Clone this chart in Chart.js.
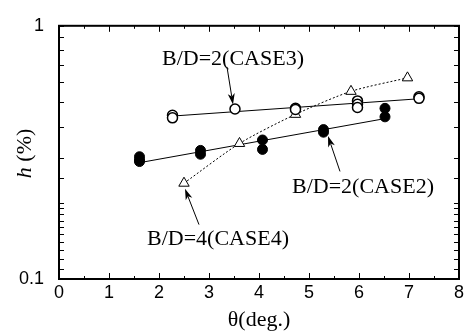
<!DOCTYPE html>
<html>
<head>
<meta charset="utf-8">
<script src="https://cdn.jsdelivr.net/npm/chart.js@4"></script>
<style>
  html, body { margin: 0; padding: 0; background: #fff; }
  canvas { display: block; }
</style>
</head>
<body>
<canvas id="myChart" width="467" height="335"></canvas>
<script>
// values: theta (deg.) and h (%)
var case3X = [2.27, 2.27, 3.52, 4.73, 4.73, 5.97, 5.97, 5.97, 7.2, 7.2];
var case3Y = [0.443, 0.433, 0.469, 0.472, 0.467, 0.505, 0.490, 0.476, 0.524, 0.517];
var case3FitX = [2.27, 7.2];
var case3FitY = [0.440, 0.515];

var case2X = [1.61, 1.61, 1.61, 2.83, 2.83, 4.07, 4.07, 5.29, 5.29, 6.52, 6.52];
var case2Y = [0.304, 0.295, 0.291, 0.322, 0.311, 0.354, 0.325, 0.389, 0.380, 0.472, 0.437];
var case2FitX = [1.61, 6.52];
var case2FitY = [0.288, 0.430];

var case4X = [2.5, 3.61, 4.73, 5.84, 6.97];
var case4Y = [0.239, 0.343, 0.447, 0.551, 0.623];

var xTicks = [0, 1, 2, 3, 4, 5, 6, 7, 8];
var yTickLabels = ['0.1', '1'];

// annotation labels with arrows (text position, arrow tail, arrow tip), in data units
var notes = [
  { text: 'B/D=2(CASE3)', x: 3.48, y: 0.736, from: [3.36, 0.688], to: [3.48, 0.489] },
  { text: 'B/D=2(CASE2)', x: 6.08, y: 0.231, from: [5.62, 0.266], to: [5.38, 0.367] },
  { text: 'B/D=4(CASE4)', x: 3.18, y: 0.144, from: [2.80, 0.164], to: [2.52, 0.227] }
];

function pts(xs, ys) {
  return xs.map(function(x, i) { return { x: x, y: ys[i] }; });
}

var serif = '"Liberation Serif", "Times New Roman", serif';

var decor = {
  id: 'decor',
  afterDraw: function(chart) {
    var c = chart.ctx, a = chart.chartArea;
    var xs = chart.scales.x, ys = chart.scales.y;
    c.save();
    c.strokeStyle = '#000';
    c.fillStyle = '#000';

    // inward ticks
    c.lineWidth = 1;
    c.beginPath();
    for (var v = xs.min; v <= xs.max + 1e-9; v += 0.5) {
      var px = Math.round(xs.getPixelForValue(v)) + 0.5;
      var len = (Math.abs(v - Math.round(v)) < 1e-9) ? 6 : 3;
      c.moveTo(px, a.bottom); c.lineTo(px, a.bottom - len);
      c.moveTo(px, a.top); c.lineTo(px, a.top + len);
    }
    ys.ticks.forEach(function(t) {
      var py = Math.round(ys.getPixelForValue(t.value)) + 0.5;
      c.moveTo(a.left, py); c.lineTo(a.left + 5, py);
      c.moveTo(a.right, py); c.lineTo(a.right - 5, py);
    });
    c.stroke();

    // frame
    c.lineWidth = 2;
    c.strokeRect(a.left, a.top, a.right - a.left, a.bottom - a.top);

    // annotations
    c.font = '22px ' + serif;
    c.textAlign = 'center';
    c.textBaseline = 'middle';
    notes.forEach(function(n) {
      c.fillText(n.text, xs.getPixelForValue(n.x), ys.getPixelForValue(n.y));
      var x1 = xs.getPixelForValue(n.from[0]), y1 = ys.getPixelForValue(n.from[1]);
      var x2 = xs.getPixelForValue(n.to[0]), y2 = ys.getPixelForValue(n.to[1]);
      var ang = Math.atan2(y2 - y1, x2 - x1);
      c.lineWidth = 1;
      c.beginPath();
      c.moveTo(x1, y1);
      c.lineTo(x2 - 8 * Math.cos(ang), y2 - 8 * Math.sin(ang));
      c.stroke();
      c.beginPath();
      c.moveTo(x2, y2);
      c.lineTo(x2 - 11 * Math.cos(ang) + 3.5 * Math.sin(ang), y2 - 11 * Math.sin(ang) - 3.5 * Math.cos(ang));
      c.lineTo(x2 - 8 * Math.cos(ang), y2 - 8 * Math.sin(ang));
      c.lineTo(x2 - 11 * Math.cos(ang) - 3.5 * Math.sin(ang), y2 - 11 * Math.sin(ang) + 3.5 * Math.cos(ang));
      c.closePath();
      c.fill();
    });

    // x title
    c.font = '22px ' + serif;
    c.fillText('\u03b8(deg.)', (a.left + a.right) / 2, 320);

    // y title: italic h then (%)
    c.translate(25, (a.top + a.bottom) / 2 + 1);
    c.rotate(-Math.PI / 2);
    c.textAlign = 'left';
    c.font = 'italic 22px ' + serif;
    var wh = c.measureText('h').width;
    c.font = '22px ' + serif;
    var wp = c.measureText(' (%)').width;
    var x0 = -(wh + wp) / 2;
    c.font = 'italic 22px ' + serif;
    c.fillText('h', x0, 0);
    c.font = '22px ' + serif;
    c.fillText(' (%)', x0 + wh, 0);
    c.restore();
  }
};

var ctx = document.getElementById('myChart').getContext('2d');

var myChart = new Chart(ctx, {
  type: 'scatter',
  data: {
    datasets: [
      {
        label: 'CASE3 fit', data: pts(case3FitX, case3FitY), showLine: true,
        borderColor: '#000', borderWidth: 1, pointRadius: 0, order: 10
      },
      {
        label: 'CASE2 fit', data: pts(case2FitX, case2FitY), showLine: true,
        borderColor: '#000', borderWidth: 1, pointRadius: 0, order: 10
      },
      {
        label: 'CASE4', data: pts(case4X, case4Y), showLine: true, tension: 0.25,
        borderColor: '#000', borderWidth: 1, borderDash: [2, 2],
        pointStyle: 'triangle', pointRadius: 6, pointBackgroundColor: '#fff',
        pointBorderColor: '#000', pointBorderWidth: 1, order: 5
      },
      {
        label: 'CASE3', data: pts(case3X, case3Y),
        pointStyle: 'circle', pointRadius: 5, pointBackgroundColor: '#fff',
        pointBorderColor: '#000', pointBorderWidth: 1.5, order: 2
      },
      {
        label: 'CASE2', data: pts(case2X, case2Y),
        pointStyle: 'circle', pointRadius: 5, pointBackgroundColor: '#000',
        pointBorderColor: '#000', pointBorderWidth: 1, order: 1
      }
    ]
  },
  options: {
    responsive: false,
    animation: false,
    layout: { padding: { top: 15, right: 8, left: 0, bottom: 0 } },
    plugins: { legend: { display: false }, tooltip: { enabled: false } },
    scales: {
      x: {
        type: 'linear', min: 0, max: 8,
        afterBuildTicks: function(s) { s.ticks = xTicks.map(function(v) { return { value: v }; }); },
        grid: { display: false, drawTicks: false },
        border: { display: false },
        ticks: {
          padding: 3, color: '#000',
          font: { family: '"Liberation Sans", Arial, sans-serif', size: 18 }
        },
        afterFit: function(s) { s.height = 56; }
      },
      y: {
        type: 'logarithmic', min: 0.1, max: 1,
        grid: { display: false, drawTicks: false },
        border: { display: false },
        ticks: {
          padding: 15, color: '#000', autoSkip: false,
          font: { family: '"Liberation Sans", Arial, sans-serif', size: 18 },
          callback: function(value) {
            var s = String(Number(value.toPrecision(3)));
            return yTickLabels.indexOf(s) >= 0 ? s : '';
          }
        },
        afterFit: function(s) { s.width = 59; }
      }
    }
  },
  plugins: [decor]
});
</script>
</body>
</html>
